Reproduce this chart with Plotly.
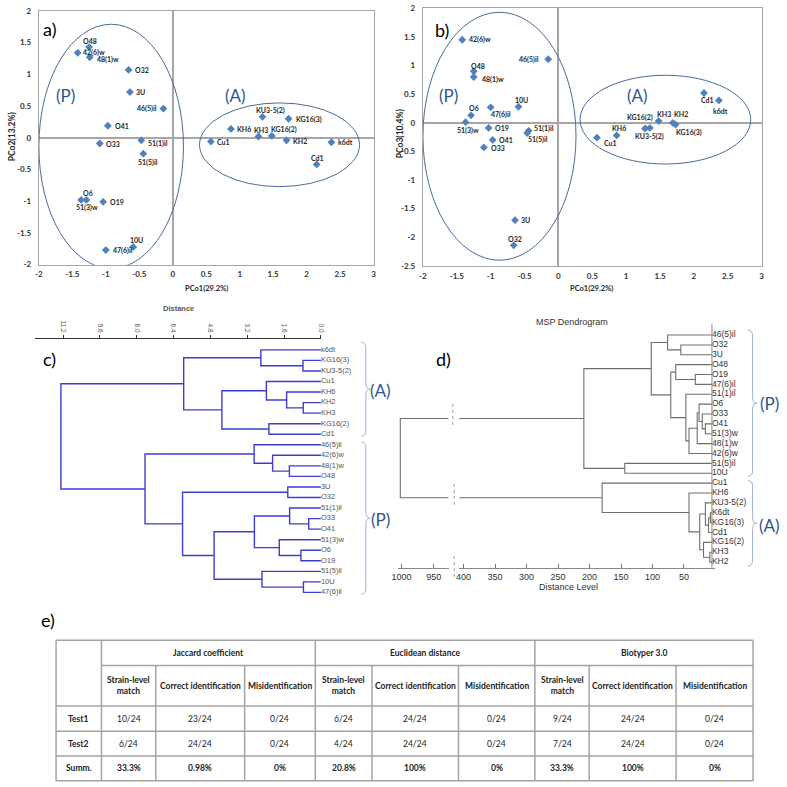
import plotly.graph_objects as go

W = H = 787
def PX(x): return x / W
def PY(y): return 1 - y / H

# ---------------- data: panel a (PCo1 vs PCo2) ----------------
a_names = ["O48", "42(6)w", "48(1)w", "O32", "3U", "46(5)il", "O41", "O33", "51(1)il", "51(5)il",
           "O6", "51(3)w", "O19", "10U", "47(6)il",
           "KU3-5(2)", "KG16(3)", "KH6", "KH3", "KG16(2)", "Cu1", "KH2", "k6dt", "Cd1"]
a_pco1 = [-1.25, -1.42, -1.24, -0.66, -0.64, -0.14, -0.97, -1.09, -0.47, -0.44,
          -1.29, -1.37, -1.04, -0.59, -1.00,
          1.34, 1.73, 0.87, 1.28, 1.48, 0.57, 1.70, 2.37, 2.15]
a_pco2 = [1.43, 1.34, 1.27, 1.07, 0.72, 0.46, 0.19, -0.09, -0.04, -0.25,
          -0.98, -0.98, -1.01, -1.72, -1.77,
          0.33, 0.30, 0.14, 0.02, 0.03, -0.06, -0.04, -0.07, -0.42]

# ---------------- data: panel b (PCo1 vs PCo3) ----------------
b_names = ["42(6)w", "46(5)il", "O48", "48(1)w", "10U", "47(6)il", "O6", "51(3)w", "O19", "51(1)il",
           "51(5)il", "O41", "O33", "3U", "O32",
           "Cd1", "k6dt", "KH3", "KG16(2)", "KU3-5(2)", "KH2", "KG16(3)", "KH6", "Cu1"]
b_pco1 = [-1.42, -0.15, -1.25, -1.25, -0.59, -1.00, -1.29, -1.37, -1.03, -0.44,
          -0.46, -0.97, -1.10, -0.64, -0.66,
          2.15, 2.37, 1.28, 1.48, 1.35, 1.69, 1.73, 0.86, 0.57]
b_pco3 = [1.45, 1.11, 0.90, 0.80, 0.28, 0.27, 0.13, 0.01, -0.09, -0.14,
          -0.18, -0.30, -0.43, -1.70, -2.14,
          0.52, 0.39, -0.10, 0.03, -0.09, 0.00, -0.03, -0.22, -0.26]

pco_ticks = [-2.5, -2, -1.5, -1, -0.5, 0, 0.5, 1, 1.5, 2, 2.5, 3]
pco_ticklabels = ["-2.5", "-2", "-1.5", "-1", "-0.5", "0", "0.5", "1", "1.5", "2", "2.5", "3"]

# ---------------- data: panel c (Jaccard / distance dendrogram) ----------------
# clusters: (left, right, merge distance)
c_k6 = ("k6dt", ("KG16(3)", "KU3-5(2)", 0.78), 2.61)
c_kh = ("Cu1", ("KH6", ("KH2", "KH3", 0.77), 1.49), 2.37)
c_cd = ("KG16(2)", "Cd1", 2.26)
c_A = (c_k6, (c_kh, c_cd, 4.30), 5.96)
c_46 = ("46(5)il", ("42(6)w", ("48(1)w", "O48", 1.37), 2.10), 2.90)
c_3u = ("3U", "O32", 1.44)
c_51 = (("51(1)il", ("O33", "O41", 0.53), 1.36), ("51(3)w", ("O6", "O19", 0.87), 1.81), 2.89)
c_10 = ("51(5)il", ("10U", "47(6)il", 0.76), 2.56)
c_P = (c_46, (c_3u, (c_51, c_10, 4.64), 6.01), 7.64)
c_root = (c_A, c_P, 11.29)
c_ticks = [0.0, 1.6, 3.2, 4.8, 6.4, 8.0, 9.6, 11.2]
c_ticklabels = ["0.0", "1.6", "3.2", "4.8", "6.4", "8.0", "9.6", "11.2"]

# ---------------- data: panel d (MSP dendrogram, distance level) ----------------
d_G = (("O6", ("O33", ("O41", "51(3)w", 16), 21), 26), "48(1)w", 29)
d_S = ("51(1)il", (d_G, "42(6)w", 42), 47)
d_Q = (("O48", ("O19", "47(6)il", 32), 63), d_S, 71)
d_U = (("46(5)il", ("O32", "3U", 55), 76), d_Q, 102)
d_P = (d_U, ("51(5)il", "10U", 144), 209)
d_A = ("Cu1", ("KH6", (("KU3-5(2)", (("K6dt", "KG16(3)", 8), "Cd1", 11), 16),
                       ("KG16(2)", ("KH3", "KH2", 9), 19), 25), 42), 180)
d_root_level = 1002
d_base = 5.6
d_ticks_right = [400, 350, 300, 250, 200, 150, 100, 50]
d_ticks_left = [1000, 950]

# ---------------- data: panel e (table) ----------------
tbl_groups = ["Jaccard coefficient", "Euclidean distance", "Biotyper 3.0"]
tbl_subheads = ["Strain-level<br>match", "Correct identification", "Misidentification"]
tbl_rows = ["Test1", "Test2", "Summ."]
tbl_jaccard = [["10/24", "23/24", "0/24"], ["6/24", "24/24", "0/24"], ["33.3%", "0.98%", "0%"]]
tbl_euclid = [["6/24", "24/24", "0/24"], ["4/24", "24/24", "0/24"], ["20.8%", "100%", "0%"]]
tbl_biotyper = [["9/24", "24/24", "0/24"], ["7/24", "24/24", "0/24"], ["33.3%", "100%", "0%"]]

# ---------------- label placement (pixel offsets of label centre from its marker) ----------------
a_label_shift = {
    "O48": (1, -5.6), "42(6)w": (16.5, -0.6), "48(1)w": (18.1, 1.8), "O32": (13.4, 0.3), "3U": (10.5, 0),
    "46(5)il": (-16.5, -0.4), "O41": (13.9, 0.4), "O33": (13.7, 0.4), "51(1)il": (16.4, 3),
    "51(5)il": (4.7, 8.6), "O6": (1.5, -6.6), "51(3)w": (5.5, 7.7), "O19": (14.3, 0), "10U": (3.2, -6.4),
    "47(6)il": (17.6, 0.4), "KU3-5(2)": (8.2, -6), "KG16(3)": (20.2, 0.7), "KH6": (13.1, 0.3),
    "KH3": (2.8, -7), "KG16(2)": (12.5, -6.3), "Cu1": (12.7, 0), "KH2": (13.2, 0.4), "k6dt": (14.3, 0),
    "Cd1": (1.1, -6.3)}
b_label_shift = {
    "42(6)w": (18.2, 0), "46(5)il": (-19.3, 0), "O48": (4.7, -5.3), "48(1)w": (18.8, 2.3),
    "10U": (3, -6.6), "47(6)il": (10.1, 7.3), "O6": (2.8, -7.7), "51(3)w": (2.6, 8), "O19": (13.8, 0),
    "51(1)il": (15.7, -2), "51(5)il": (10.6, 6.7), "O41": (13.7, 0.3), "O33": (14.4, 0.3),
    "3U": (10.2, 0), "O32": (1.8, -6), "Cd1": (3.3, 7.4), "k6dt": (1.9, 10.6), "KH3": (18.7, -15),
    "KG16(2)": (-19, -3.7), "KU3-5(2)": (-0.2, 8.4), "KH2": (8, -8.3), "KG16(3)": (13.5, 8),
    "KH6": (2.6, -7), "Cu1": (13.7, 5)}

# ---------------- helpers ----------------
def build(node, base, leaves, xs, ys):
    if isinstance(node, str):
        leaves.append(node)
        return base, float(len(leaves) - 1)
    l, r, h = node
    hl, yl = build(l, base, leaves, xs, ys)
    hr, yr = build(r, base, leaves, xs, ys)
    xs += [hl, h, h, hr, None]
    ys += [yl, yl, yr, yr, None]
    return h, (yl + yr) / 2

def ann(text, x, y, size, color="#000000", angle=0, xanchor="center", family="Lato"):
    return dict(text=text, x=PX(x), y=PY(y), xref="paper", yref="paper", showarrow=False,
                font=dict(size=size, color=color, family=family), textangle=angle,
                xanchor=xanchor, yanchor="middle")

def brace(x0, y0, y1, w, color):
    xm = x0 + w / 2
    xt = x0 + w
    ym = (y0 + y1) / 2
    r = min(6, (y1 - y0) / 4)
    pts = (f"M {PX(x0)},{PY(y0)} Q {PX(xm)},{PY(y0)} {PX(xm)},{PY(y0 + r)} "
           f"L {PX(xm)},{PY(ym - r)} Q {PX(xm)},{PY(ym)} {PX(xt)},{PY(ym)} "
           f"Q {PX(xm)},{PY(ym)} {PX(xm)},{PY(ym + r)} L {PX(xm)},{PY(y1 - r)} "
           f"Q {PX(xm)},{PY(y1)} {PX(x0)},{PY(y1)}")
    return dict(type="path", path=pts, xref="paper", yref="paper", line=dict(color=color, width=1))

fig = go.Figure()
MARK = "#4f81bd"
LBL = "#262626"
BLUE_TXT = "#2c5491"
ELL = "#4a6a9c"

# panel a / b markers
fig.add_trace(go.Scatter(x=a_pco1, y=a_pco2, mode="markers", text=a_names,
                         marker=dict(symbol="diamond", size=6, color=MARK),
                         xaxis="x", yaxis="y", cliponaxis=False))
fig.add_trace(go.Scatter(x=b_pco1, y=b_pco3, mode="markers", text=b_names,
                         marker=dict(symbol="diamond", size=6, color=MARK),
                         xaxis="x2", yaxis="y2", cliponaxis=False))

# panel c dendrogram
c_leaves, cx, cy = [], [], []
build(c_root, 0.0, c_leaves, cx, cy)
fig.add_trace(go.Scatter(x=cx, y=cy, mode="lines", line=dict(color="#3d3dd0", width=1.4),
                         xaxis="x3", yaxis="y3", cliponaxis=False, hoverinfo="skip"))
fig.add_trace(go.Scatter(x=[0.0] * len(c_leaves), y=list(range(len(c_leaves))), mode="text",
                         text=c_leaves, textposition="middle right",
                         textfont=dict(size=7.5, color="#555555", family="Liberation Sans"),
                         xaxis="x3", yaxis="y3", cliponaxis=False))

# panel d dendrogram (broken axis)
d_leaves, dx, dy = [], [], []
hP, yP = build(d_P, d_base, d_leaves, dx, dy)
hA, yA = build(d_A, d_base, d_leaves, dx, dy)
d_right_edge = 407
dx += [hP, d_right_edge, None, hA, d_right_edge, None]
dy += [yP, yP, None, yA, yA, None]
fig.add_trace(go.Scatter(x=dx, y=dy, mode="lines", line=dict(color="#6e6e6e", width=1.1),
                         xaxis="x4", yaxis="y4", cliponaxis=False, hoverinfo="skip"))
d_left_edge = 926.9
fig.add_trace(go.Scatter(x=[d_left_edge, d_root_level, d_root_level, d_left_edge], y=[yP, yP, yA, yA],
                         mode="lines", line=dict(color="#6e6e6e", width=1.1),
                         xaxis="x5", yaxis="y4", cliponaxis=False, hoverinfo="skip"))
fig.add_trace(go.Scatter(x=[d_base] * len(d_leaves), y=list(range(len(d_leaves))), mode="text",
                         text=d_leaves, textposition="middle right",
                         textfont=dict(size=8.5, color="#333333", family="Liberation Sans"),
                         xaxis="x4", yaxis="y4", cliponaxis=False))

frame = "#a6a6a6"
tickf = dict(size=8, color="#333333", family="Lato", weight="bold")
common = dict(showgrid=False, showline=True, linecolor=frame, linewidth=1.2, mirror=True,
              zeroline=True, zerolinecolor=frame, zerolinewidth=1.5, ticks="", tickfont=tickf)

fig.update_layout(
    width=787, height=787, margin=dict(l=0, r=0, t=0, b=0),
    paper_bgcolor="white", plot_bgcolor="white", showlegend=False,
    xaxis=dict(domain=[PX(33.3), PX(372.3)], anchor="y", range=[-2, 3], ticklabelstandoff=2,
               tickvals=pco_ticks[1:], ticktext=pco_ticklabels[1:], **common),
    yaxis=dict(domain=[PY(263), PY(6)], anchor="x", range=[-2, 2], ticklabelstandoff=5,
               tickvals=pco_ticks[1:10], ticktext=pco_ticklabels[1:10], **common),
    xaxis2=dict(domain=[PX(422.3), PX(765.3)], anchor="y2", range=[-2, 3], ticklabelstandoff=2,
                tickvals=pco_ticks[1:], ticktext=pco_ticklabels[1:], **common),
    yaxis2=dict(domain=[PY(264.3), PY(3.3)], anchor="x2", range=[-2.5, 2], ticklabelstandoff=5,
                tickvals=pco_ticks[0:10], ticktext=pco_ticklabels[0:10], **common),
    xaxis3=dict(domain=[PX(29.3), PX(319)], anchor="y3", side="top", range=[12.42, 0],
                tickvals=c_ticks, ticktext=c_ticklabels, tickangle=90, ticks="outside", ticklen=3,
                tickcolor="#333333", showline=True, linecolor="#333333", linewidth=1.2,
                showgrid=False, zeroline=False,
                tickfont=dict(size=6.5, color="#555555", family="Liberation Sans")),
    yaxis3=dict(domain=[PY(600), PY(338.3)], anchor="x3", range=[23.47, -1.03], visible=False),
    xaxis4=dict(domain=[PX(459), PX(718.6)], anchor="y4", range=[407, 0],
                tickvals=d_ticks_right, ticks="inside", ticklen=4, tickcolor="#777777",
                showline=True, linecolor="#888888", linewidth=1, showgrid=False, zeroline=False,
                tickfont=dict(size=9, color="#333333", family="Liberation Sans")),
    yaxis4=dict(domain=[PY(570), PY(322.7)], anchor="x4", range=[23.57, -1.16], visible=False),
    xaxis5=dict(domain=[PX(396.7), PX(448.3)], anchor="y4", range=[1006.1, 926.9],
                tickvals=d_ticks_left, ticks="inside", ticklen=4, tickcolor="#777777",
                showline=True, linecolor="#888888", linewidth=1, showgrid=False, zeroline=False,
                tickfont=dict(size=9, color="#333333", family="Liberation Sans")),
)

shapes = []
# ellipses (data coordinates)
shapes.append(dict(type="circle", xref="x", yref="y", x0=-2.0, x1=0.16, y0=-2.06, y1=1.79,
                   line=dict(color=ELL, width=1)))
shapes.append(dict(type="circle", xref="x", yref="y", x0=0.40, x1=2.79, y0=-0.77, y1=0.55,
                   line=dict(color=ELL, width=1)))
shapes.append(dict(type="circle", xref="x2", yref="y2", x0=-2.0, x1=0.26, y0=-2.40, y1=1.93,
                   line=dict(color=ELL, width=1)))
shapes.append(dict(type="circle", xref="x2", yref="y2", x0=0.32, x1=2.84, y0=-0.72, y1=0.83,
                   line=dict(color=ELL, width=1)))
# braces
BR = "#9fb4d4"
shapes.append(brace(360, 341.7, 436.7, 9, BR))
shapes.append(brace(360, 442.7, 596.7, 9, BR))
shapes.append(brace(751.7, 329.3, 477.3, 9, BR))
shapes.append(brace(751.7, 481.7, 568.3, 9, BR))
# d: vertical axis line and break marks
shapes.append(dict(type="line", xref="x4", yref="paper", x0=d_base, x1=d_base, y0=PY(570), y1=PY(322.7),
                   line=dict(color="#888888", width=1)))
for (bx, by0, by1) in [(452.5, 404, 428), (454, 485, 508), (454, 558, 582)]:
    shapes.append(dict(type="line", xref="paper", yref="paper", x0=PX(bx), x1=PX(bx), y0=PY(by0), y1=PY(by1),
                       line=dict(color="#9a9a9a", width=1, dash="dot")))

# table grid
TL = "#a3a3a3"
tx = [50.7, 96.7, 151.7, 241.7, 313.3, 370.7, 458.3, 535.7, 590.7, 678.7, 756.7]
ty = [643.3, 669.0, 710.0, 735.7, 760.7, 785.7]
full_cols = {50.7, 96.7, 313.3, 535.7, 756.7}
for x in tx:
    top = ty[0] if x in full_cols else ty[1]
    shapes.append(dict(type="line", xref="paper", yref="paper", x0=PX(x), x1=PX(x), y0=PY(top), y1=PY(ty[-1]),
                       line=dict(color=TL, width=1.5)))
for i, y in enumerate(ty):
    left = tx[1] if i == 1 else tx[0]
    shapes.append(dict(type="line", xref="paper", yref="paper", x0=PX(left), x1=PX(tx[-1]), y0=PY(y), y1=PY(y),
                       line=dict(color=TL, width=1.5)))

anns = []
# point labels
for names, xs, ys, shifts, xr, yr in [(a_names, a_pco1, a_pco2, a_label_shift, "x", "y"),
                                       (b_names, b_pco1, b_pco3, b_label_shift, "x2", "y2")]:
    for n, xv, yv in zip(names, xs, ys):
        sx, sy = shifts[n]
        anns.append(dict(text=n, x=xv, y=yv, xref=xr, yref=yr, showarrow=False,
                         xshift=sx, yshift=-sy, xanchor="center", yanchor="middle",
                         font=dict(size=7, color=LBL, family="Lato", weight="bold")))
# panel letters
anns += [ann("a)", 44, 24, 18), ann("b)", 442, 25.5, 18), ann("c)", 44.5, 359, 18),
         ann("d)", 443, 359, 18), ann("e)", 43, 623, 18)]
# cluster labels
for (t, x, y) in [("(P)", 60, 91.7), ("(A)", 232.5, 91.7), ("(P)", 448.3, 92), ("(A)", 640, 92),
                  ("(A)", 379.7, 390.7), ("(P)", 379.7, 521), ("(P)", 773, 404), ("(A)", 773, 526.7)]:
    anns.append(ann(t, x, y, 17, color=BLUE_TXT))
# axis titles
anns += [ann("<b>PCo1(29.2%)</b>", 203, 287, 7.5, color=LBL),
         ann("<b>PCo2(13.2%)</b>", 6, 133, 8.5, color=LBL, angle=-90),
         ann("<b>PCo1(29.2%)</b>", 593, 287, 7.5, color=LBL),
         ann("<b>PCo3(10.4%)</b>", 399, 130, 8.5, color=LBL, angle=-90),
         ann("<b>Distance</b>", 175, 307.3, 7.5, color="#555555", family="Liberation Sans"),
         ann("MSP Dendrogram", 573, 320.7, 9, color="#333333", family="Liberation Sans"),
         ann("Distance Level", 570, 589.3, 9, color="#333333", family="Liberation Sans")]
# table text
TF = "Lato"
col_centers = [(tx[i] + tx[i + 1]) / 2 for i in range(len(tx) - 1)]
grp_bounds = [(tx[1], tx[4]), (tx[4], tx[7]), (tx[7], tx[10])]
for g, (x0, x1) in zip(tbl_groups, grp_bounds):
    anns.append(ann(f"<b>{g}</b>", (x0 + x1) / 2, (ty[0] + ty[1]) / 2, 8.5, color="#222222", family=TF))
for gi in range(3):
    for si, s in enumerate(tbl_subheads):
        anns.append(ann(f"<b>{s}</b>", col_centers[1 + gi * 3 + si], (ty[1] + ty[2]) / 2, 8.5,
                        color="#222222", family=TF))
for ri, rname in enumerate(tbl_rows):
    yc = (ty[2 + ri] + ty[3 + ri]) / 2
    anns.append(ann(f"<b>{rname}</b>", col_centers[0], yc, 8.5, color="#222222", family=TF))
    for gi, grp in enumerate([tbl_jaccard, tbl_euclid, tbl_biotyper]):
        for si in range(3):
            v = grp[ri][si]
            txt = f"<b>{v}</b>" if ri == 2 else v
            anns.append(ann(txt, col_centers[1 + gi * 3 + si], yc, 8.5, color="#222222", family=TF))

fig.update_layout(shapes=shapes, annotations=anns)
fig.write_html("out.html", config={"displayModeBar": False},
               post_script="document.body.style.margin='0';document.body.style.overflow='hidden';")
